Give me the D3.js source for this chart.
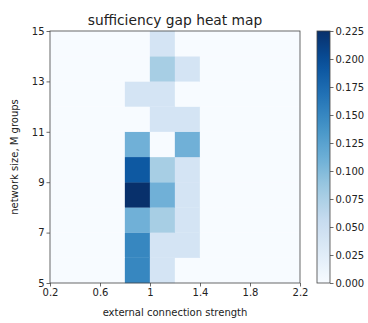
<!DOCTYPE html>
<html>
<head>
<meta charset="utf-8">
<script src="https://cdn.jsdelivr.net/npm/d3@7"></script>
<style>
  html, body { margin: 0; padding: 0; background: #fff; }
  svg { display: block; font-family: "DejaVu Sans", sans-serif; }
</style>
</head>
<body>
<svg id="chart" width="368" height="323"></svg>
<script>
// Bin edges: external connection strength (x) and network size M (y)
const strengthBins = [0.2, 0.4, 0.6, 0.8, 1.0, 1.2, 1.4, 1.6, 1.8, 2.0, 2.2];
const sizeBins = [5, 6, 7, 8, 9, 10, 11, 12, 13, 14, 15];

// Sufficiency gap per network size, one value per strength bin
const gapM5  = [0, 0, 0, 0.15,  0.04,  0,     0, 0, 0, 0];
const gapM6  = [0, 0, 0, 0.15,  0.04,  0.04,  0, 0, 0, 0];
const gapM7  = [0, 0, 0, 0.11,  0.078, 0.04,  0, 0, 0, 0];
const gapM8  = [0, 0, 0, 0.225, 0.11,  0.04,  0, 0, 0, 0];
const gapM9  = [0, 0, 0, 0.19,  0.078, 0.04,  0, 0, 0, 0];
const gapM10 = [0, 0, 0, 0.11,  0,     0.11,  0, 0, 0, 0];
const gapM11 = [0, 0, 0, 0,     0.04,  0.04,  0, 0, 0, 0];
const gapM12 = [0, 0, 0, 0.04,  0.04,  0,     0, 0, 0, 0];
const gapM13 = [0, 0, 0, 0,     0.078, 0.04,  0, 0, 0, 0];
const gapM14 = [0, 0, 0, 0,     0.04,  0,     0, 0, 0, 0];
const gapRows = [gapM5, gapM6, gapM7, gapM8, gapM9, gapM10, gapM11, gapM12, gapM13, gapM14];

const xTicks = [0.2, 0.6, 1, 1.4, 1.8, 2.2];
const yTicks = [5, 7, 9, 11, 13, 15];
const colorTicks = [0, 0.025, 0.05, 0.075, 0.1, 0.125, 0.15, 0.175, 0.2, 0.225];
const gapMax = 0.225;

// Blues colormap anchors
const bluesStops = ["#f7fbff", "#deebf7", "#c6dbef", "#9ecae1", "#6baed6", "#4292c6", "#2171b5", "#08519c", "#08306b"];

const svg = d3.select("#chart");
const plot = { left: 50, right: 300, top: 31, bottom: 283 };

const x = d3.scaleLinear().domain([0.2, 2.2]).range([plot.left, plot.right]);
const y = d3.scaleLinear().domain([5, 15]).range([plot.bottom, plot.top]);
const color = d3.scaleLinear()
  .domain(bluesStops.map((_, i) => gapMax * i / (bluesStops.length - 1)))
  .range(bluesStops)
  .interpolate(d3.interpolateRgb)
  .clamp(true);

// Heat map cells
const cells = [];
gapRows.forEach((row, j) => {
  row.forEach((v, i) => {
    cells.push({ x0: strengthBins[i], x1: strengthBins[i + 1], y0: sizeBins[j], y1: sizeBins[j + 1], v });
  });
});
svg.append("g").selectAll("rect").data(cells).join("rect")
  .attr("x", d => x(d.x0))
  .attr("y", d => y(d.y1))
  .attr("width", d => x(d.x1) - x(d.x0))
  .attr("height", d => y(d.y0) - y(d.y1))
  .attr("fill", d => color(d.v))
  .attr("stroke", d => color(d.v))
  .attr("stroke-width", 0.3);

// Axes
const axisColor = "#444";
const xAxis = svg.append("g").attr("transform", `translate(0,${plot.bottom})`)
  .call(d3.axisBottom(x).tickValues(xTicks).tickFormat(d3.format("~g")).tickSizeOuter(0).tickSize(3.5).tickPadding(2));
const yAxis = svg.append("g").attr("transform", `translate(${plot.left},0)`)
  .call(d3.axisLeft(y).tickValues(yTicks).tickFormat(d3.format("d")).tickSizeOuter(0).tickSize(3.5).tickPadding(2));
[xAxis, yAxis].forEach(a => {
  a.select(".domain").remove();
  a.selectAll("line").attr("stroke", axisColor).attr("stroke-width", 0.8);
  a.selectAll("text").attr("font-size", 10).attr("fill", "#222").attr("font-family", "DejaVu Sans, sans-serif");
});

// Frame
svg.append("rect")
  .attr("x", plot.left).attr("y", plot.top)
  .attr("width", plot.right - plot.left).attr("height", plot.bottom - plot.top)
  .attr("fill", "none").attr("stroke", axisColor).attr("stroke-width", 0.8);

// Titles
svg.append("text").attr("x", 175).attr("y", 25)
  .attr("text-anchor", "middle").attr("font-size", 13.8).attr("fill", "#222")
  .text("sufficiency gap heat map");
svg.append("text").attr("x", (plot.left + plot.right) / 2).attr("y", 316)
  .attr("text-anchor", "middle").attr("font-size", 10).attr("fill", "#222")
  .text("external connection strength");
svg.append("text")
  .attr("transform", `translate(18,${(plot.top + plot.bottom) / 2}) rotate(-90)`)
  .attr("text-anchor", "middle").attr("font-size", 10).attr("fill", "#222")
  .text("network size, M groups");

// Colorbar
const cb = { left: 317, width: 13, top: 31, bottom: 283 };
const cbScale = d3.scaleLinear().domain([0, gapMax]).range([cb.bottom, cb.top]);
const defs = svg.append("defs");
const grad = defs.append("linearGradient").attr("id", "gapGrad")
  .attr("x1", 0).attr("y1", 1).attr("x2", 0).attr("y2", 0);
d3.range(0, 1.0001, 0.05).forEach(t => {
  grad.append("stop").attr("offset", t).attr("stop-color", color(t * gapMax));
});
svg.append("rect")
  .attr("x", cb.left).attr("y", cb.top)
  .attr("width", cb.width).attr("height", cb.bottom - cb.top)
  .attr("fill", "url(#gapGrad)").attr("stroke", axisColor).attr("stroke-width", 0.8);
const cbAxis = svg.append("g").attr("transform", `translate(${cb.left + cb.width},0)`)
  .call(d3.axisRight(cbScale).tickValues(colorTicks).tickFormat(d3.format(".3f")).tickSizeOuter(0).tickSize(3.5).tickPadding(2));
cbAxis.select(".domain").remove();
cbAxis.selectAll("line").attr("stroke", axisColor).attr("stroke-width", 0.8);
cbAxis.selectAll("text").attr("font-size", 10).attr("fill", "#222").attr("font-family", "DejaVu Sans, sans-serif");
</script>
</body>
</html>
